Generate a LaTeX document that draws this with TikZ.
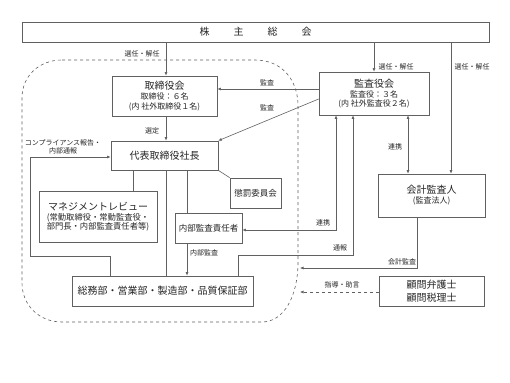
\documentclass[tikz,border=0pt]{standalone}
\usepackage{fontspec}
\newfontfamily\jp{Noto Sans CJK JP}
\usetikzlibrary{arrows.meta}
\definecolor{lc}{gray}{0.38}
\definecolor{tc}{gray}{0.15}
\tikzset{
  box/.style={draw=lc, line width=0.7pt, inner sep=0pt, align=center, text=tc, font=\jp\fontsize{10}{11}\selectfont},
  lbl/.style={inner sep=0pt, text=tc, font=\jp\fontsize{7}{8}\selectfont, align=center},
  conn/.style={draw=lc, line width=0.6pt},
  arr/.style={conn, -{Latex[length=3.5pt,width=3pt]}},
  arrb/.style={conn, {Latex[length=3.5pt,width=3pt]}-{Latex[length=3.5pt,width=3pt]}}
}
\begin{document}
\begin{tikzpicture}[x=1pt,y=-1pt]
\useasboundingbox (0,0) rectangle (510,382);
\fill[white] (0,0) rectangle (510,382);

% group boundary
\draw[lc, dashed, line width=0.6pt] (62,60) -- (255,60) .. controls (282,60) and (298,80) .. (298,106) -- (298,262) .. controls (298,296) and (284,322) .. (262,322) -- (62,322) .. controls (39,322) and (22,305) .. (22,283) -- (22,98) .. controls (22,76) and (39,60) .. (62,60);

% nodes
\node[box, minimum width=467, minimum height=20] (soukai) at (255.5,32) {株\hspace{24pt}主\hspace{24pt}総\hspace{24pt}会};
\node[box, minimum width=105, minimum height=40] (torishimari) at (164.5,96) {取締役会\\[-1pt]{\fontsize{8}{10}\selectfont 取締役：６名}\\[-1.5pt]{\fontsize{8}{10}\selectfont (内 社外取締役１名)}};
\node[box, minimum width=110, minimum height=43] (kansa) at (374,93.5) {監査役会\\[-1pt]{\fontsize{8}{10}\selectfont 監査役：３名}\\[-1.5pt]{\fontsize{8}{10}\selectfont (内 社外監査役２名)}};
\node[box, minimum width=107, minimum height=29] (daihyo) at (164.5,155.5) {代表取締役社長};
\node[box, minimum width=118, minimum height=51] (mgmt) at (98,216.5) {マネジメントレビュー\\[-1pt]{\fontsize{8.3}{10}\selectfont (常勤取締役・常勤監査役・}\\[-1.5pt]{\fontsize{8.3}{10}\selectfont 部門長・内部監査責任者等)}};
\node[box, minimum width=51, minimum height=30, font=\jp\fontsize{8.5}{10}\selectfont] (choubatsu) at (255.5,193) {懲罰委員会};
\node[box, minimum width=67, minimum height=30, font=\jp\fontsize{8.5}{10}\selectfont] (naibu) at (208.5,228) {内部監査責任者};
\node[box, minimum width=181, minimum height=30] (soumu) at (162.5,291) {総務部・営業部・製造部・品質保証部};
\node[box, minimum width=107, minimum height=43] (kaikei) at (431.5,195.5) {会計監査人\\[-1pt]{\fontsize{8}{10}\selectfont (監査法人)}};
\node[box, minimum width=105, minimum height=30] (komon) at (431.5,291) {顧問弁護士\\[2pt]顧問税理士};

% boundary end points
\coordinate (bKaikei) at (300,268);
\coordinate (bKomon) at (300,292);

% connectors
\draw[arr] (soukai.south -| 166,0) -- (torishimari.north -| 166,0);
\node[lbl] (l1) at (142,54) {選任・解任};
\draw[arr] (soukai.south -| kansa.north) -- (kansa.north);
\node[lbl] (l2) at (396,67) {選任・解任};
\draw[arr] (soukai.south -| 451,0) -- (kaikei.north -| 451,0);
\node[lbl] (l3) at (472,67) {選任・解任};

\draw[arr] (kansa.west |- 0,89) -- (torishimari.east |- 0,89);
\node[lbl] (l4) at (267,83) {監査};
\draw[arr] (kansa.west |- 0,99) -- (daihyo.north east);
\node[lbl] (l5) at (267,108) {監査};

\draw[arr] (torishimari.south -| 166,0) -- (daihyo.north -| 166,0);
\node[lbl] (l6) at (152,131) {選定};

\draw[arr] (soumu.north -| 110,0) -- (110,256) -- (30,256) -- (30,157) -- (daihyo.west |- 0,157);
\node[lbl] (l7) at (63,147) {コンプライアンス報告・\\内部通報};

\draw[conn] (daihyo.south -| 133,0) -- (mgmt.north -| 133,0);
\draw[conn] (daihyo.south -| 166,0) -- (soumu.north -| 166,0);
\draw[conn] (daihyo.south -| 187,0) -- (naibu.north -| 187,0);
\draw[conn] (daihyo.south east) -- (choubatsu.north west);

\draw[arr] (naibu.south -| 187,0) -- (soumu.north -| 187,0);
\node[lbl] (l8) at (204,253) {内部監査};

\draw[arrb] (naibu.east |- 0,230) -- (336,230) -- (kansa.south -| 336,0);
\node[lbl] (l9) at (323,223) {連携};

\draw[arr] (soumu.north -| 238,0) -- (238,255) -- (353,255) -- (kansa.south -| 353,0);
\node[lbl] (l10) at (340,248) {通報};

\draw[arrb] (kansa.south -| 408,0) -- (kaikei.north -| 408,0);
\node[lbl] (l11) at (395,147) {連携};

\draw[arr] (kaikei.south -| 417,0) -- (417,268) -- (bKaikei);
\node[lbl] (l12) at (402,262) {会計監査};

\draw[arr, dashed] (komon.west |- 0,292) -- (bKomon);
\node[lbl] (l13) at (342,285) {指導・助言};
\end{tikzpicture}
\end{document}
